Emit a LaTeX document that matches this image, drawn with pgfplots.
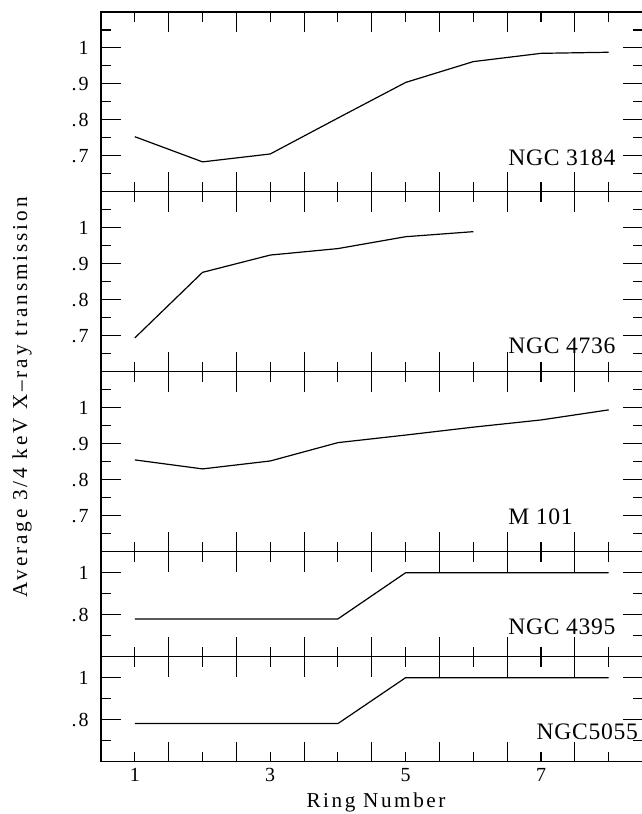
\documentclass[border=0pt]{standalone}
\usepackage{fontspec}
\setmainfont{Liberation Serif}
\usepackage{pgfplots}
\pgfplotsset{compat=1.18}

\pgfplotstableread{
x y
1 0.753
2 0.683
3 0.705
4 0.805
5 0.904
6 0.962
7 0.985
8 0.988
}\ngcA
\pgfplotstableread{
x y
1 0.694
2 0.876
3 0.924
4 0.942
5 0.975
6 0.989
}\ngcB
\pgfplotstableread{
x y
1 0.855
2 0.830
3 0.852
4 0.903
5 0.924
6 0.946
7 0.966
8 0.994
}\mA
\pgfplotstableread{
x y
1 0.780
2 0.780
3 0.780
4 0.780
5 1.000
6 1.000
7 1.000
8 1.000
}\ngcC
\pgfplotstableread{
x y
1 0.781
2 0.781
3 0.781
4 0.781
5 1.000
6 1.000
7 1.000
8 1.000
}\ngcD

\tikzset{
  galaxy/.style={anchor=west, inner sep=0pt, font=\fontsize{11.8}{12}\selectfont\addfontfeature{LetterSpace=3}},
}

\pgfplotsset{
  panel/.style={
    anchor=north west,
    scale only axis,
    width=270.8pt,
    xmin=0.5, xmax=8.5,
    ymin=0.6, ymax=1.1,
    axis line style={line width=0.6pt},
    tick align=inside,
    tick pos=both,
    xtick={1.5,2.5,...,7.5},
    xticklabels={},
    minor xtick={1,2,...,8},
    major tick length=10pt,
    minor tick length=5pt,
    every tick/.style={line width=0.55pt, black},
    every minor tick/.style={line width=0.55pt, black},
    /pgf/number format/assume math mode=true,
    yticklabel style={font=\fontsize{10}{11}\selectfont\addfontfeature{LetterSpace=10}, inner sep=0pt, xshift=-6pt},
    xticklabel style={font=\fontsize{10}{11}\selectfont, inner sep=0pt, yshift=-3.3pt},
    clip=false,
  },
  tall/.style={
    height=90pt,
    ytick={0.7,0.8,0.9,1},
    yticklabels={.7,.8,.9,1},
    minor ytick={0.65,0.75,0.85,0.95,1.05},
  },
  short/.style={
    height=52.5pt,
    ytick={0.8,1},
    yticklabels={.8,1},
    minor ytick={0.7,0.9},
  },
  dataline/.style={black, line width=0.6pt, no marks},
}

\begin{document}
\begin{tikzpicture}
\useasboundingbox (0,0) rectangle (321pt,-407pt);

\begin{axis}[panel, tall, at={(50.5pt,-6pt)}, height=89.85pt]
\addplot[dataline] table {\ngcA};
\node[galaxy] at (axis cs:6.51,0.694) {NGC 3184};
\end{axis}

\begin{axis}[panel, tall, at={(50.5pt,-95.85pt)}]
\addplot[dataline] table {\ngcB};
\node[galaxy] at (axis cs:6.51,0.672) {NGC 4736};
\end{axis}

\begin{axis}[panel, tall, at={(50.5pt,-185.85pt)}]
\addplot[dataline] table {\mA};
\node[galaxy] at (axis cs:6.51,0.697) {M 101};
\end{axis}

\begin{axis}[panel, short, at={(50.5pt,-275.85pt)}]
\addplot[dataline] table {\ngcC};
\node[galaxy] at (axis cs:6.51,0.744) {NGC 4395};
\end{axis}

\begin{axis}[panel, short, at={(50.5pt,-328.35pt)}, height=52.4pt,
  extra x ticks={1,3,5,7},
  extra x tick labels={1,3,5,7},
  extra x tick style={major tick length=0pt, xtick pos=bottom},
]
\addplot[dataline] table {\ngcD};
\node[galaxy] at (axis cs:6.93,0.741) {NGC5055};
\end{axis}

\node[rotate=90, inner sep=0pt, font=\fontsize{10.6}{12}\selectfont\addfontfeature{LetterSpace=14}] at (11pt,-198.5pt) {Average 3/4 keV X--ray transmission};
\node[anchor=base, inner sep=0pt, font=\fontsize{10.6}{12}\selectfont\addfontfeature{LetterSpace=12}] at (188pt,-403.8pt) {Ring Number};
\end{tikzpicture}
\end{document}
